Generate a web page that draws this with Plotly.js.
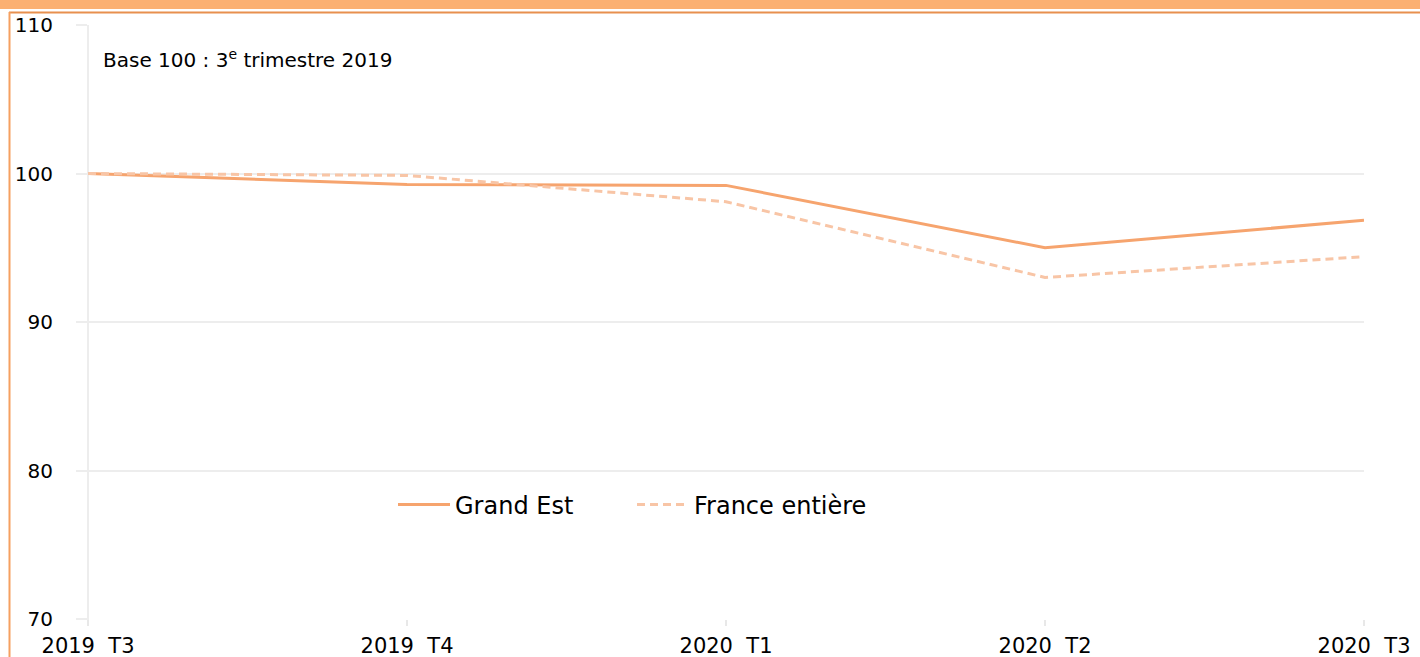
<!DOCTYPE html>
<html>
<head>
<meta charset="utf-8">
<script src="https://cdn.plot.ly/plotly-3.0.1.min.js"></script>
<style>html,body{margin:0;padding:0;background:#fff;}#chart{width:1420px;height:657px;}</style>
</head>
<body>
<div id="chart"></div>
<script>
const categories = ["2019  T3", "2019  T4", "2020  T1", "2020  T2", "2020  T3"];
const grandEst = [100, 99.26, 99.2, 95.0, 96.85];
const franceEntiere = [100, 99.87, 98.1, 93.0, 94.4];
const yTicks = [70, 80, 90, 100, 110];
const seriesNames = ["Grand Est", "France entière"];
const noteText = "Base 100 : 3<sup>e</sup> trimestre 2019";

const font = "DejaVu Sans, Verdana, sans-serif";

const traces = [
  {x: categories, y: grandEst, name: seriesNames[0], type: "scatter", mode: "lines",
   line: {color: "#F6A46E", width: 3}},
  {x: categories, y: franceEntiere, name: seriesNames[1], type: "scatter", mode: "lines",
   line: {color: "#F8C5A6", width: 3, dash: "8px,5px"}}
];

// paper coordinate helpers (plot area: x 88..1364, y 25..619)
const px = v => (v - 88) / 1276;
const py = v => (619 - v) / 594;

const layout = {
  width: 1420, height: 657,
  margin: {l: 88, r: 56, t: 25, b: 38},
  paper_bgcolor: "#ffffff", plot_bgcolor: "#ffffff",
  font: {family: font, color: "#000000", size: 18},
  showlegend: true,
  legend: {orientation: "h", x: px(393), y: py(505), xanchor: "left", yanchor: "middle",
           font: {family: font, size: 24, color: "#000"}, bgcolor: "rgba(0,0,0,0)",
           entrywidth: 172, entrywidthmode: "pixels", itemwidth: 52},
  xaxis: {type: "category", range: [0, categories.length - 1], showgrid: false,
          showline: false, ticks: "outside", ticklen: 6, tickcolor: "#E8E8E8", tickwidth: 2,
          ticklabelstandoff: 2,
          tickfont: {family: font, size: 21, color: "#000"}, zeroline: false, fixedrange: true},
  yaxis: {range: [70, 110], tickvals: yTicks, showgrid: true, gridcolor: "#EDEDED", gridwidth: 2,
          showline: false, ticks: "outside", ticklen: 11, tickcolor: "#EDEDED", tickwidth: 2,
          ticklabelstandoff: 19, zeroline: false,
          tickfont: {family: font, size: 20, color: "#000"}, fixedrange: true},
  annotations: [
    {text: noteText, xref: "paper", yref: "paper", x: px(101), y: py(59), xanchor: "left",
     yanchor: "middle", showarrow: false, font: {family: font, size: 20, color: "#000"}}
  ],
  shapes: [
    {type: "rect", xref: "paper", yref: "paper", x0: px(0), x1: px(1420), y0: py(9), y1: py(-3),
     fillcolor: "#FBB072", line: {width: 0}, layer: "above"},
    {type: "line", xref: "paper", yref: "paper", x0: px(9), x1: px(1420), y0: py(12.5), y1: py(12.5),
     line: {color: "#E8904E", width: 2}},
    {type: "line", xref: "paper", yref: "paper", x0: px(9.5), x1: px(9.5), y0: py(12), y1: py(660),
     line: {color: "#F5A060", width: 2}},
    {type: "line", xref: "paper", yref: "paper", x0: 0, x1: 0, y0: py(625), y1: 1,
     line: {color: "#EDEDED", width: 2}, layer: "below"}
  ]
};

Plotly.newPlot("chart", traces, layout, {displayModeBar: false, staticPlot: true});
</script>
</body>
</html>
